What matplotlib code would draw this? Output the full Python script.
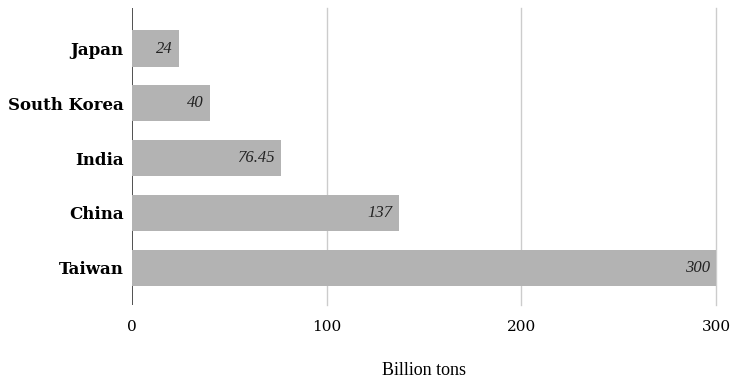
import matplotlib.pyplot as plt

countries = ["Japan", "South Korea", "India", "China", "Taiwan"]
values = [24, 40, 76.45, 137, 300]
value_labels = ["24", "40", "76.45", "137", "300"]
xticks = [0, 100, 200, 300]

fig = plt.figure(figsize=(7.32, 3.85), dpi=100)
ax = fig.add_axes([132 / 732, 1 - 305 / 385, (716 - 132) / 732, 297 / 385])

pos = list(range(len(countries)))
ax.barh(pos, values, height=0.66, color="#b3b3b3", zorder=3)
for p, v, lab in zip(pos, values, value_labels):
    ax.text(v - 3, p, lab, ha="right", va="center", fontsize=12,
            style="italic", family="Liberation Serif", color="#222222", zorder=4)

ax.set_xlim(0, 300)
ax.set_ylim(4.68, -0.74)
ax.set_yticks(pos)
ax.set_yticklabels(countries, family="DejaVu Serif", fontweight="bold", fontsize=12)
ax.set_xticks(xticks)
ax.set_xticklabels([str(t) for t in xticks], family="DejaVu Serif", fontsize=11)
ax.tick_params(axis="y", length=0, pad=6)
ax.tick_params(axis="x", length=0, pad=11)

for t in xticks[1:]:
    ax.axvline(t, color="#cccccc", lw=1, zorder=1, clip_on=False)
ax.axvline(0, color="#333333", lw=1.2, zorder=2)
for s in ax.spines.values():
    s.set_visible(False)

ax.set_xlabel("Billion tons", family="Liberation Serif", fontsize=13, labelpad=20)

fig.savefig("out.png", dpi=100)
